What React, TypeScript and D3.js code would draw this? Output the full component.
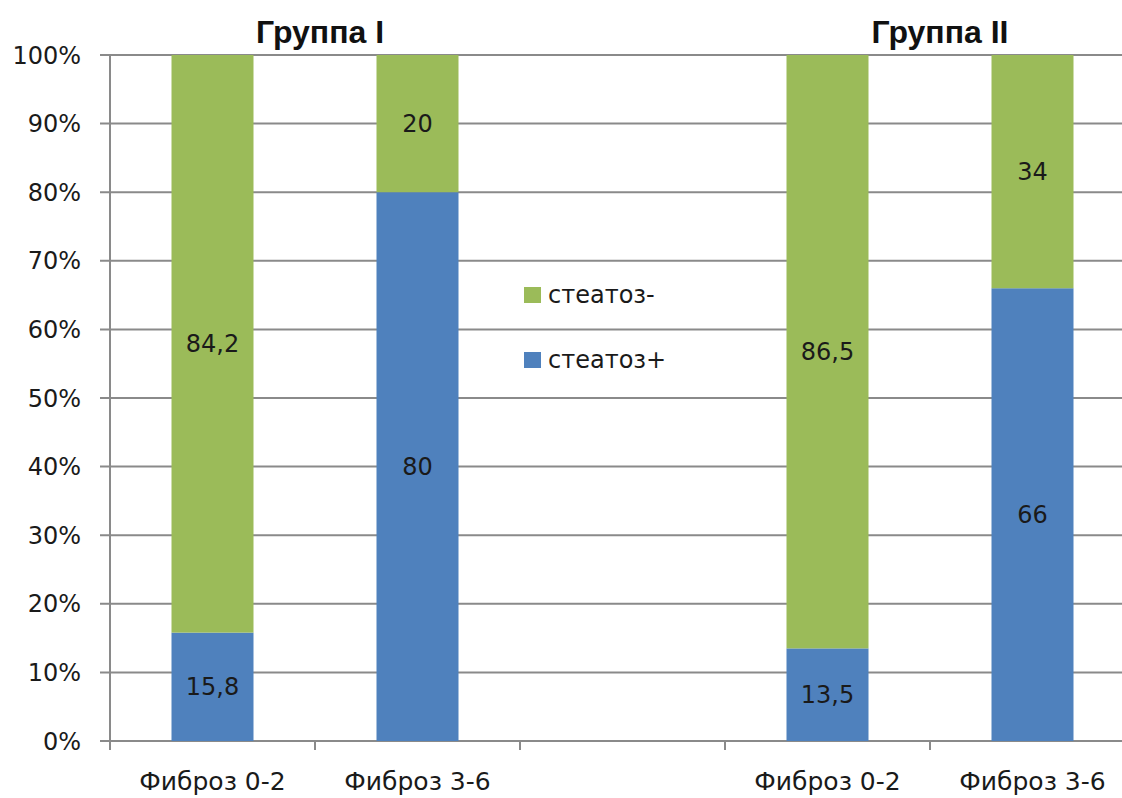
import React from "react";
import * as d3 from "d3";

const categories = ["Фиброз 0-2", "Фиброз 3-6", "", "Фиброз 0-2 ", "Фиброз 3-6 "];
const steatosisPos = [15.8, 80, null, 13.5, 66];
const steatosisNeg = [84.2, 20, null, 86.5, 34];
const seriesNames = ["стеатоз-", "стеатоз+"];
const groupTitles = ["Группа I", "Группа II"];
const yTicks = [0, 10, 20, 30, 40, 50, 60, 70, 80, 90, 100];

const W = 1122;
const H = 798;
const GREEN = "#9bbb59";
const BLUE = "#4f81bd";
const GRID = "#8a8a8a";
const FONT = "'DejaVu Sans', sans-serif";
const INK = "#1a1a1a";

export default function App() {
  const x = d3
    .scaleBand<string>()
    .domain(categories)
    .range([110, 1135])
    .paddingInner(0.6)
    .paddingOuter(0.3);
  const y = d3.scaleLinear().domain([0, 100]).range([741, 55]);
  const step = x.step();
  const bw = x.bandwidth();

  const fmt = (v: number) => String(v).replace(".", ",");

  return (
    <svg
      width={W}
      height={H}
      style={{ position: "absolute", left: 0, top: 0, background: "#fff" }}
      fontFamily={FONT}
    >
      <rect width={W} height={H} fill="#fff" />
      {/* gridlines and y tick labels */}
      {yTicks.map((t) => (
        <g key={t}>
          <line x1={100} x2={W} y1={y(t)} y2={y(t)} stroke={GRID} strokeWidth={2} />
          <text x={81} y={y(t)} dy="0.36em" textAnchor="end" fontSize={24} fill={INK}>
            {t}%
          </text>
        </g>
      ))}
      {/* axes */}
      <line x1={110} x2={110} y1={y(100)} y2={y(0)} stroke={GRID} strokeWidth={2} />
      {d3.range(categories.length).map((i) => {
        const tx = 110 + i * step;
        return <line key={i} x1={tx} x2={tx} y1={y(0)} y2={y(0) + 9} stroke={GRID} strokeWidth={2} />;
      })}

      {/* stacked bars */}
      {categories.map((c, i) => {
        const pos = steatosisPos[i];
        const neg = steatosisNeg[i];
        if (pos == null || neg == null) return null;
        const x0 = x(c)!;
        const cx = x0 + bw / 2;
        return (
          <g key={i}>
            <rect x={x0} y={y(pos)} width={bw} height={y(0) - y(pos)} fill={BLUE} />
            <rect x={x0} y={y(pos + neg)} width={bw} height={y(pos) - y(pos + neg)} fill={GREEN} />
            <text x={cx} y={y(pos / 2)} dy="0.36em" textAnchor="middle" fontSize={24} fill={INK}>
              {fmt(pos)}
            </text>
            <text x={cx} y={y(pos + neg / 2)} dy="0.36em" textAnchor="middle" fontSize={24} fill={INK}>
              {fmt(neg)}
            </text>
          </g>
        );
      })}

      {/* category labels */}
      {categories.map((c, i) =>
        c.trim() ? (
          <text key={i} x={x(c)! + bw / 2} y={790} textAnchor="middle" fontSize={25} fill={INK}>
            {c.trim()}
          </text>
        ) : null
      )}

      {/* group titles */}
      {groupTitles.map((g, i) => {
        const cx = 110 + (i === 0 ? 1 : 4) * step;
        return (
          <text
            key={g}
            x={i === 0 ? cx + 5 : cx + 10}
            y={43}
            textAnchor="middle"
            fontSize={32}
            fontWeight="bold"
            fontFamily="'Liberation Sans', Arial, sans-serif"
            fill="#111"
          >
            {g}
          </text>
        );
      })}

      {/* legend */}
      {seriesNames.map((s, i) => (
        <g key={s} transform={`translate(524, ${287 + i * 65})`}>
          <rect width={17} height={16} fill={i === 0 ? GREEN : BLUE} />
          <text x={24} y={16} fontSize={24} fill={INK}>
            {s}
          </text>
        </g>
      ))}
    </svg>
  );
}
